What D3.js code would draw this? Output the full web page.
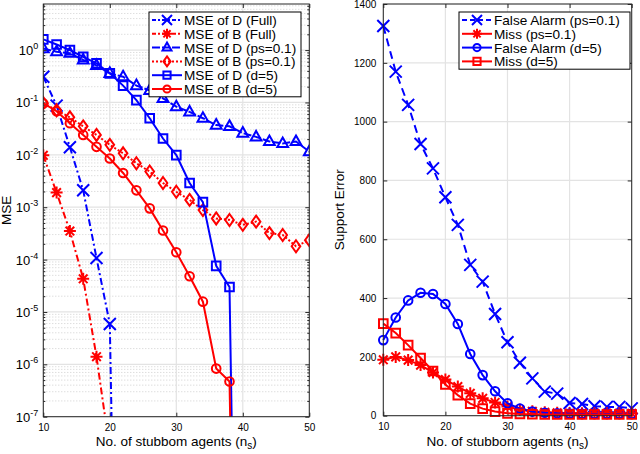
<!DOCTYPE html>
<html>
<head>
<meta charset="utf-8">
<script src="https://cdn.jsdelivr.net/npm/d3@7"></script>
<style>
  body { margin: 0; background: #fff; }
  svg { display: block; font-family: "Liberation Sans", Arial, sans-serif; }
</style>
</head>
<body>
<svg id="stage" width="640" height="454"></svg>
<script>
// x values: number of stubborn agents
const agents = [10, 12, 14, 16, 18, 20, 22, 24, 26, 28, 30, 32, 34, 36, 38, 40, 42, 44, 46, 48, 50];

// left panel: MSE (log scale); tiny values mark points that fall to zero
const mseDFull = [0.31, 0.087, 0.014, 0.0021, 1.07e-4, 5.9e-6, 1e-19];
const mseBFull = [9.8e-3, 1.9e-3, 3.5e-4, 4.3e-5, 1.4e-6, 2.3e-8];
const mseDPs = [1.07, 0.93, 0.87, 0.65, 0.51, 0.36, 0.31, 0.21, 0.17, 0.12, 0.083, 0.066, 0.05, 0.037, 0.035, 0.026, 0.022, 0.018, 0.0165, 0.018, 0.0115];
const mseBPs = [0.097, 0.071, 0.052, 0.035, 0.024, 0.0155, 0.0107, 0.0069, 0.0048, 0.0029, 0.00197, 0.00138, 8.8e-4, 6.1e-4, 5.7e-4, 4.6e-4, 5.3e-4, 3.2e-4, 2.95e-4, 1.8e-4, 2.35e-4];
const mseDD5 = [1.6, 1.28, 1.0, 0.74, 0.56, 0.36, 0.21, 0.111, 0.05, 0.0205, 0.0099, 0.0029, 0.00125, 7.6e-5, 3.0e-5, 1e-20];
const mseBD5 = [0.096, 0.068, 0.04, 0.024, 0.0142, 0.0085, 0.0045, 0.0021, 9.5e-4, 3.6e-4, 1.38e-4, 4.8e-5, 1.57e-5, 8.3e-7, 4.7e-7, 1e-20];

// right panel: support error counts
const falseAlarmPs = [1325, 1170, 1057, 924, 841, 743, 649, 513, 456, 346, 250, 180, 127, 82, 75, 43, 40, 32, 30, 30, 25];
const missPs = [190, 200, 189, 172, 147, 123, 99, 76, 59, 45, 31, 20, 15, 12, 10, 9, 8, 8, 8, 8, 8];
const falseAlarmD5 = [257, 334, 392, 418, 414, 380, 312, 210, 138, 83, 42, 24, 14, 10, 8, 7, 6, 6, 6, 6, 6];
const missD5 = [313, 281, 240, 196, 152, 106, 70, 41, 24, 14, 8, 6, 5, 4, 4, 4, 4, 4, 4, 4, 4];

const xTicks = [10, 20, 30, 40, 50];
const logTicks = [-7, -6, -5, -4, -3, -2, -1, 0];
const supportTicks = [0, 200, 400, 600, 800, 1000, 1200, 1400];

const leftNames = ["MSE of D (Full)", "MSE of B (Full)", "MSE of D (ps=0.1)", "MSE of B (ps=0.1)", "MSE of D (d=5)", "MSE of B (d=5)"];
const rightNames = ["False Alarm (ps=0.1)", "Miss (ps=0.1)", "False Alarm (d=5)", "Miss (d=5)"];

const BLUE = "#0000ff", RED = "#ff0000";
const AXIS = "#262626", GRID = "#e3e3e3";
const MK = 6;

const svg = d3.select("#stage");

// marker path generator, centred at 0,0
const markerPath = (kind, s) => {
  switch (kind) {
    case "x": return `M${-s},${-s}L${s},${s}M${-s},${s}L${s},${-s}`;
    case "star": {
      const d = s * 0.72;
      return `M0,${-s}V${s}M${-s},0H${s}M${-d},${-d}L${d},${d}M${-d},${d}L${d},${-d}`;
    }
    case "tri": return `M0,${-s}L${s * 0.9},${s * 0.6}L${-s * 0.9},${s * 0.6}Z`;
    case "diamond": return `M0,${-s}L${s * 0.72},0L0,${s}L${-s * 0.72},0Z`;
    case "square": return `M${-s * 0.72},${-s * 0.72}H${s * 0.72}V${s * 0.72}H${-s * 0.72}Z`;
    case "circle": return `M${s * 0.72},0A${s * 0.72},${s * 0.72} 0 1,1 ${-s * 0.72},0A${s * 0.72},${s * 0.72} 0 1,1 ${s * 0.72},0Z`;
  }
};

const drawSeries = (g, xs, ys, vals, color, dash, marker, clipId) => {
  const pts = vals.map((v, i) => [xs(agents[i]), ys(v)]);
  g.append("path")
    .attr("clip-path", `url(#${clipId})`)
    .attr("d", d3.line()(pts))
    .attr("fill", "none")
    .attr("stroke", color)
    .attr("stroke-width", 2)
    .attr("stroke-dasharray", dash);
  g.append("g")
    .attr("clip-path", `url(#${clipId})`)
    .selectAll("path")
    .data(pts)
    .join("path")
    .attr("transform", (d) => `translate(${d[0]},${d[1]})`)
    .attr("d", markerPath(marker, MK))
    .attr("fill", "none")
    .attr("stroke", color)
    .attr("stroke-width", 2);
};

const drawLegend = (g, x, y, w, rowH, entries) => {
  const h = rowH * entries.length + 2;
  g.append("rect")
    .attr("x", x).attr("y", y).attr("width", w).attr("height", h)
    .attr("fill", "#fff").attr("stroke", "#000").attr("stroke-width", 1);
  entries.forEach((e, i) => {
    const cy = y + 8 + i * rowH;
    g.append("line")
      .attr("x1", x + 3).attr("x2", x + 33).attr("y1", cy).attr("y2", cy)
      .attr("stroke", e.color).attr("stroke-width", 2).attr("stroke-dasharray", e.dash);
    g.append("path")
      .attr("transform", `translate(${x + 18},${cy})`)
      .attr("d", markerPath(e.marker, MK - 1))
      .attr("fill", "none").attr("stroke", e.color).attr("stroke-width", 2);
    g.append("text")
      .attr("x", x + 35).attr("y", cy + 5)
      .attr("font-size", 13.6).attr("fill", "#000")
      .text(e.name);
  });
};

// ---------- left panel ----------
const L = { x0: 43.3, x1: 309.3, y0: 4, y1: 416.7 };
const xL = d3.scaleLinear().domain([10, 50]).range([L.x0, L.x1]);
const yL = d3.scaleLog().domain([1e-7, Math.pow(10, 0.88)]).range([L.y1, L.y0]);

const defs = svg.append("defs");
defs.append("clipPath").attr("id", "clipL").append("rect")
  .attr("x", L.x0).attr("y", L.y0).attr("width", L.x1 - L.x0).attr("height", L.y1 - L.y0);

const left = svg.append("g");

// minor log grid (dotted)
const minorVals = [];
for (let e = -7; e <= 0; e++) for (let m = 2; m <= 9; m++) {
  const v = m * Math.pow(10, e);
  if (v < yL.domain()[1]) minorVals.push(v);
}
left.selectAll(".minor").data(minorVals).join("line")
  .attr("x1", L.x0).attr("x2", L.x1)
  .attr("y1", (d) => yL(d)).attr("y2", (d) => yL(d))
  .attr("stroke", "#c4c4c4").attr("stroke-width", 0.8).attr("stroke-dasharray", "1,2");
left.selectAll(".major").data(logTicks).join("line")
  .attr("x1", L.x0).attr("x2", L.x1)
  .attr("y1", (d) => yL(Math.pow(10, d))).attr("y2", (d) => yL(Math.pow(10, d)))
  .attr("stroke", GRID).attr("stroke-width", 1.2);
left.selectAll(".vgrid").data(xTicks).join("line")
  .attr("x1", (d) => xL(d)).attr("x2", (d) => xL(d))
  .attr("y1", L.y0).attr("y2", L.y1)
  .attr("stroke", GRID).attr("stroke-width", 1.2);

// axes with inward ticks on all sides
const axL = left.append("g").attr("color", AXIS).attr("font-size", 13).attr("font-family", "Liberation Sans, Arial, sans-serif");
axL.append("g").attr("transform", `translate(0,${L.y1})`)
  .call(d3.axisBottom(xL).tickValues(xTicks).tickSizeInner(-4).tickSizeOuter(0).tickPadding(7).tickFormat(d3.format("d")));
axL.append("g").attr("transform", `translate(0,${L.y0})`)
  .call(d3.axisTop(xL).tickValues(xTicks).tickSizeInner(-4).tickSizeOuter(0).tickFormat(""));
axL.append("g").attr("transform", `translate(${L.x0},0)`)
  .call(d3.axisLeft(yL).tickValues(logTicks.map((e) => Math.pow(10, e))).tickSizeInner(-4).tickSizeOuter(0).tickFormat(""));
axL.append("g").attr("transform", `translate(${L.x1},0)`)
  .call(d3.axisRight(yL).tickValues(logTicks.map((e) => Math.pow(10, e))).tickSizeInner(-4).tickSizeOuter(0).tickFormat(""));
axL.append("g").attr("transform", `translate(${L.x0},0)`)
  .call(d3.axisLeft(yL).tickValues(minorVals).tickSizeInner(-2).tickSizeOuter(0).tickFormat(""));
axL.append("g").attr("transform", `translate(${L.x1},0)`)
  .call(d3.axisRight(yL).tickValues(minorVals).tickSizeInner(-2).tickSizeOuter(0).tickFormat(""));
axL.selectAll(".domain").remove();
axL.selectAll(".tick text").attr("fill", "#000");

// 10^n labels
const yLab = left.selectAll(".ylab").data(logTicks).join("text")
  .attr("x", L.x0 - 5).attr("y", (d) => yL(Math.pow(10, d)) + 5)
  .attr("text-anchor", "end").attr("font-size", 13);
yLab.append("tspan").text("10");
yLab.append("tspan").attr("dy", -6).attr("font-size", 9).text((d) => (d < 0 ? "-" + (-d) : d));

drawSeries(left, xL, yL, mseDFull, BLUE, "7,3,2,3", "x", "clipL");
drawSeries(left, xL, yL, mseBFull, RED, "7,3,2,3", "star", "clipL");
drawSeries(left, xL, yL, mseDPs, BLUE, "8,2", "tri", "clipL");
drawSeries(left, xL, yL, mseBPs, RED, "2,2", "diamond", "clipL");
drawSeries(left, xL, yL, mseDD5, BLUE, null, "square", "clipL");
drawSeries(left, xL, yL, mseBD5, RED, null, "circle", "clipL");

left.append("rect")
  .attr("x", L.x0).attr("y", L.y0).attr("width", L.x1 - L.x0).attr("height", L.y1 - L.y0)
  .attr("fill", "none").attr("stroke", AXIS).attr("stroke-width", 1);

drawLegend(left, 149, 12, 152, 13.8, [
  { name: leftNames[0], color: BLUE, dash: "4,2,2,2", marker: "x" },
  { name: leftNames[1], color: RED, dash: "4,2,2,2", marker: "star" },
  { name: leftNames[2], color: BLUE, dash: "8,2", marker: "tri" },
  { name: leftNames[3], color: RED, dash: "2,2", marker: "diamond" },
  { name: leftNames[4], color: BLUE, dash: null, marker: "square" },
  { name: leftNames[5], color: RED, dash: null, marker: "circle" },
]);

left.append("text")
  .attr("transform", `translate(11,${(L.y0 + L.y1) / 2}) rotate(-90)`)
  .attr("text-anchor", "middle").attr("font-size", 13.5).text("MSE");
const xlabL = left.append("text")
  .attr("x", (L.x0 + L.x1) / 2).attr("y", 446)
  .attr("text-anchor", "middle").attr("font-size", 13.5);
xlabL.append("tspan").text("No. of stubbom agents (n");
xlabL.append("tspan").attr("dy", 3).attr("font-size", 10).text("s");
xlabL.append("tspan").attr("dy", -3).text(")");

// ---------- right panel ----------
const R = { x0: 383.3, x1: 631.7, y0: 4, y1: 415.7 };
const xR = d3.scaleLinear().domain([10, 50]).range([R.x0, R.x1]);
const yR = d3.scaleLinear().domain([0, 1400]).range([R.y1, R.y0]);

defs.append("clipPath").attr("id", "clipR").append("rect")
  .attr("x", R.x0 - 8).attr("y", R.y0).attr("width", R.x1 - R.x0 + 16).attr("height", R.y1 - R.y0 + 8);

const right = svg.append("g");
right.selectAll(".hgrid").data(supportTicks).join("line")
  .attr("x1", R.x0).attr("x2", R.x1)
  .attr("y1", (d) => yR(d)).attr("y2", (d) => yR(d))
  .attr("stroke", GRID).attr("stroke-width", 1.2);
right.selectAll(".vgrid").data(xTicks).join("line")
  .attr("x1", (d) => xR(d)).attr("x2", (d) => xR(d))
  .attr("y1", R.y0).attr("y2", R.y1)
  .attr("stroke", GRID).attr("stroke-width", 1.2);

const axR = right.append("g").attr("color", AXIS).attr("font-size", 13).attr("font-family", "Liberation Sans, Arial, sans-serif");
axR.append("g").attr("transform", `translate(0,${R.y1})`)
  .call(d3.axisBottom(xR).tickValues(xTicks).tickSizeInner(-4).tickSizeOuter(0).tickPadding(7).tickFormat(d3.format("d")));
axR.append("g").attr("transform", `translate(0,${R.y0})`)
  .call(d3.axisTop(xR).tickValues(xTicks).tickSizeInner(-4).tickSizeOuter(0).tickFormat(""));
axR.append("g").attr("transform", `translate(${R.x0},0)`)
  .call(d3.axisLeft(yR).tickValues(supportTicks).tickSizeInner(-4).tickSizeOuter(0).tickPadding(7).tickFormat(d3.format("d")));
axR.append("g").attr("transform", `translate(${R.x1},0)`)
  .call(d3.axisRight(yR).tickValues(supportTicks).tickSizeInner(-4).tickSizeOuter(0).tickFormat(""));
axR.selectAll(".domain").remove();
axR.selectAll(".tick text").attr("fill", "#000");

drawSeries(right, xR, yR, falseAlarmPs, BLUE, "8,5", "x", "clipR");
drawSeries(right, xR, yR, missPs, RED, null, "star", "clipR");
drawSeries(right, xR, yR, falseAlarmD5, BLUE, null, "circle", "clipR");
drawSeries(right, xR, yR, missD5, RED, null, "square", "clipR");

right.append("rect")
  .attr("x", R.x0).attr("y", R.y0).attr("width", R.x1 - R.x0).attr("height", R.y1 - R.y0)
  .attr("fill", "none").attr("stroke", AXIS).attr("stroke-width", 1);

drawLegend(right, 459, 12, 171, 13.8, [
  { name: rightNames[0], color: BLUE, dash: "5,3", marker: "x" },
  { name: rightNames[1], color: RED, dash: null, marker: "star" },
  { name: rightNames[2], color: BLUE, dash: null, marker: "circle" },
  { name: rightNames[3], color: RED, dash: null, marker: "square" },
]);

right.append("text")
  .attr("transform", `translate(344,${(R.y0 + R.y1) / 2}) rotate(-90)`)
  .attr("text-anchor", "middle").attr("font-size", 13.5).text("Support Error");
const xlabR = right.append("text")
  .attr("x", (R.x0 + R.x1) / 2).attr("y", 446)
  .attr("text-anchor", "middle").attr("font-size", 13.5);
xlabR.append("tspan").text("No. of stubborn agents (n");
xlabR.append("tspan").attr("dy", 3).attr("font-size", 10).text("s");
xlabR.append("tspan").attr("dy", -3).text(")");
</script>
</body>
</html>
